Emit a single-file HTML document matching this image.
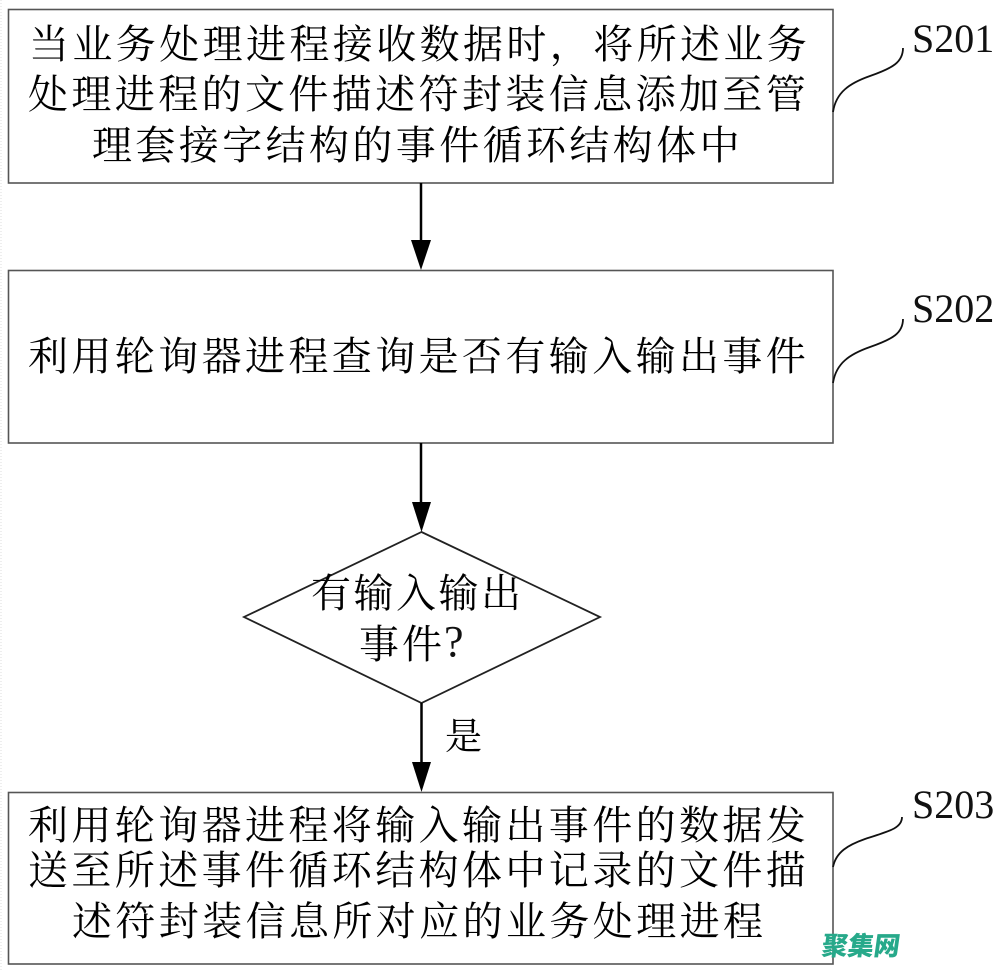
<!DOCTYPE html>
<html>
<head>
<meta charset="utf-8">
<style>
  html, body { margin: 0; padding: 0; background: #fff; }
  body { width: 1000px; height: 971px; overflow: hidden; }
  svg { display: block; }
  .cjk { font-family: "Liberation Serif", "Noto Serif CJK SC", "Noto Sans CJK SC", serif; font-size: 40px; fill: #000; letter-spacing: 3.4px; }
  .lab { font-family: "Liberation Serif", serif; font-size: 40px; fill: #111; letter-spacing: 0px; }
</style>
</head>
<body>
<svg width="1000" height="971" viewBox="0 0 1000 971" xmlns="http://www.w3.org/2000/svg">
  <!-- faint left edge dots -->
  <line x1="1" y1="0" x2="1" y2="971" stroke="#ddd" stroke-width="1" stroke-dasharray="1,2"/>

  <!-- Box 1 -->
  <rect x="8.5" y="9.5" width="824.5" height="173.5" fill="none" stroke="#555" stroke-width="1.6"/>
  <text class="cjk" x="29" y="58">当业务处理进程接收数据时，将所述业务</text>
  <text class="cjk" x="28" y="108">处理进程的文件描述符封装信息添加至管</text>
  <text class="cjk" x="92" y="159">理套接字结构的事件循环结构体中</text>

  <!-- S201 -->
  <path d="M833,112 C836,92 850,83 870,76 C893,68 903,62 903,48" fill="none" stroke="#111" stroke-width="1.8"/>
  <text class="lab" x="912" y="52">S201</text>

  <!-- Arrow 1 -->
  <line x1="421" y1="183" x2="421" y2="242" stroke="#000" stroke-width="2.5"/>
  <polygon points="411,240 431,240 421,270" fill="#000"/>

  <!-- Box 2 -->
  <rect x="8.5" y="270.5" width="824.5" height="172.5" fill="none" stroke="#555" stroke-width="1.6"/>
  <text class="cjk" x="28" y="370">利用轮询器进程查询是否有输入输出事件</text>

  <!-- S202 -->
  <path d="M833,383 C836,363 850,354 870,347 C893,339 903,333 903,319" fill="none" stroke="#111" stroke-width="1.8"/>
  <text class="lab" x="912" y="322">S202</text>

  <!-- Arrow 2 -->
  <line x1="421" y1="443" x2="421" y2="504" stroke="#000" stroke-width="2.5"/>
  <polygon points="412,502 431,502 421.5,532" fill="#000"/>

  <!-- Diamond -->
  <polygon points="421.5,532 600,617 421.5,703 244,617" fill="none" stroke="#222" stroke-width="1.8"/>
  <text class="cjk" x="311" y="607" style="letter-spacing:2.5px">有输入输出</text>
  <text class="cjk" x="359" y="658" style="letter-spacing:3px">事件</text>
  <text x="444" y="656" style="font-family:'Liberation Serif',serif;font-size:44px;fill:#111">?</text>

  <!-- Arrow 3 -->
  <line x1="421.5" y1="703" x2="421.5" y2="764" stroke="#000" stroke-width="2.5"/>
  <polygon points="412,762 431,762 421.5,792" fill="#000"/>
  <text class="cjk" x="445" y="749" style="font-size:37px;letter-spacing:0">是</text>

  <!-- Box 3 -->
  <rect x="8.5" y="792.5" width="824.5" height="171.5" fill="none" stroke="#555" stroke-width="1.6"/>
  <text class="cjk" x="28" y="839">利用轮询器进程将输入输出事件的数据发</text>
  <text class="cjk" x="28" y="884">送至所述事件循环结构体中记录的文件描</text>
  <text class="cjk" x="72" y="935">述符封装信息所对应的业务处理进程</text>

  <!-- S203 -->
  <path d="M833,867 C836,852 848,845 865,839 C890,831 902,828 902,817" fill="none" stroke="#111" stroke-width="1.8"/>
  <text class="lab" x="912" y="818">S203</text>

  <!-- watermark -->
  <text x="821" y="955" transform="skewX(-8) translate(134,0)" style="font-family:'Noto Sans CJK SC','WenQuanYi Zen Hei',sans-serif;font-size:26px;font-weight:900;fill:#27a98a;letter-spacing:0">聚集网</text>
</svg>
</body>
</html>
